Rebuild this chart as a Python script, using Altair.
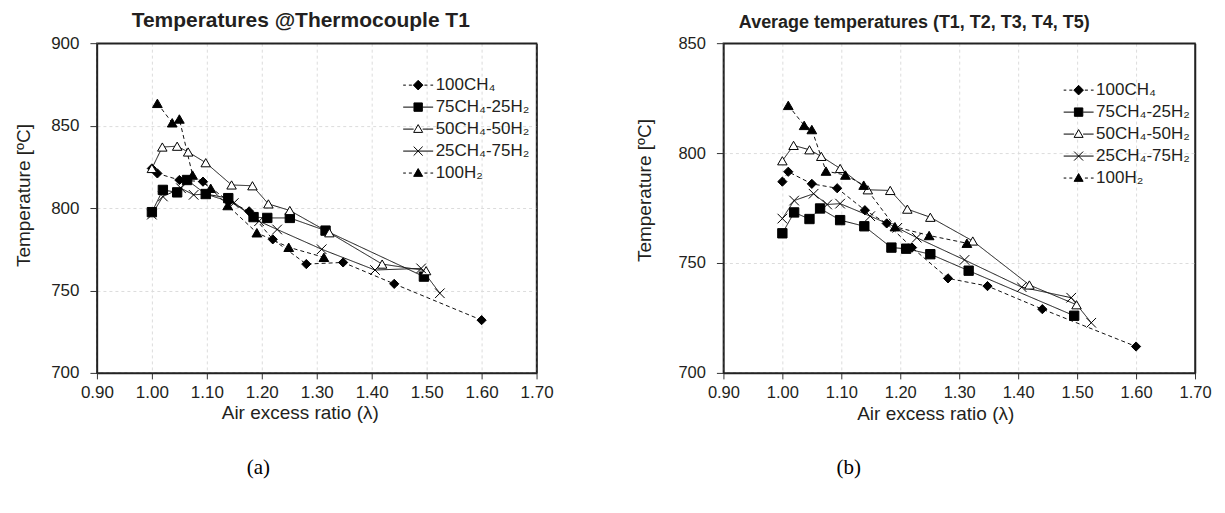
import altair as alt
import pandas as pd

series = ["100CH₄", "75CH₄-25H₂", "50CH₄-50H₂", "25CH₄-75H₂", "100H₂"]

# 100CH4
lam_ch4 = [1.00, 1.01, 1.05, 1.093, 1.14, 1.177, 1.22, 1.281, 1.348, 1.441, 1.60]
t1_ch4 = [824, 821, 817, 816, 804, 798, 781, 766, 767, 754, 732]
avg_ch4 = [787, 791.5, 786, 784, 774, 768, 757, 743, 739.5, 729, 712]
# 75CH4-25H2
lam_75 = [1.00, 1.02, 1.046, 1.064, 1.098, 1.139, 1.185, 1.21, 1.251, 1.316, 1.495]
t1_75 = [797.5, 811, 809.5, 817, 808.5, 806, 794.5, 794, 794, 786.3, 758.4]
avg_75 = [763.5, 773, 770, 774.8, 769.5, 766.7, 757, 756.5, 754, 746.5, 726]
# 50CH4-50H2
lam_50 = [1.00, 1.019, 1.046, 1.066, 1.098, 1.145, 1.183, 1.212, 1.251, 1.323, 1.419, 1.499]
t1_50 = [824, 837, 837.5, 834, 827.5, 814, 813.5, 802.5, 798.5, 785, 766, 762]
avg_50 = [796.5, 803.5, 801.5, 798.5, 793, 783.3, 783, 774.5, 770.8, 760, 740, 731]
# 25CH4-75H2
lam_25 = [1.00, 1.02, 1.053, 1.076, 1.098, 1.149, 1.195, 1.228, 1.309, 1.406, 1.49, 1.524]
t1_25 = [796, 807, 812, 808, 808.5, 803, 792, 787, 775, 762.4, 763.4, 748.3]
avg_25 = [770.2, 778.4, 781.5, 776.6, 777, 771.3, 766, 761.5, 751.4, 739, 734.2, 722.8]
# 100H2
lam_h2 = [1.01, 1.037, 1.05, 1.074, 1.107, 1.138, 1.191, 1.249, 1.313]
t1_h2 = [863.5, 851.7, 854, 820, 812, 801.5, 785, 776.2, 770.1]
avg_h2 = [821.7, 812.6, 810.7, 791.8, 790, 785.4, 766.5, 762.5, 759]

x_ticks = [0.9, 1.0, 1.1, 1.2, 1.3, 1.4, 1.5, 1.6, 1.7]


def frame(pairs):
    rows = []
    for name, (lams, temps) in zip(series, pairs):
        for l, t in zip(lams, temps):
            rows.append({"series": name, "lam": l, "T": t})
    return pd.DataFrame(rows)


df_t1 = frame([(lam_ch4, t1_ch4), (lam_75, t1_75), (lam_50, t1_50), (lam_25, t1_25), (lam_h2, t1_h2)])
df_avg = frame([(lam_ch4, avg_ch4), (lam_75, avg_75), (lam_50, avg_50), (lam_25, avg_25), (lam_h2, avg_h2)])

FONT = "Liberation Sans"
TXT = "#231f20"
CROSS = "M-1,-1L1,1M-1,1L1,-1"
pt_shapes = ["diamond", "square", "triangle-up", CROSS, "triangle-up"]
pt_sizes = [85, 95, 95, 100, 95]
fills = ["black", "black", "white", "black", "black"]
dashes = [[4, 3], [1, 0], [1, 0], [1, 0], [4, 3]]

SOLID = "M-1,0L-0.3,0M0.3,0L1,0"
DASHED = "M-1,0L-0.82,0M-0.62,0L-0.42,0M0.42,0L0.62,0M0.82,0L1,0"
DIAM = "M0,-0.32L0.32,0L0,0.32L-0.32,0Z"
SQ = "M-0.28,-0.28L0.28,-0.28L0.28,0.28L-0.28,0.28Z"
TRI = "M0,-0.3L0.3,0.22L-0.3,0.22Z"
XX = "M-1,0L1,0M-0.3,-0.3L0.3,0.3M-0.3,0.3L0.3,-0.3"
leg_paths = [DASHED + DIAM, SOLID + SQ, SOLID + TRI, XX, DASHED + TRI]


def panel(df, ymax, width, heading, head_size, head_dx, caption, cap_x, leg_x, leg_y,
          ytitle_pad, ytitle_y, xtitle_x, lab_size):
    xscale = alt.Scale(domain=[0.9, 1.7], nice=False, zero=False)
    yscale = alt.Scale(domain=[700, ymax], nice=False, zero=False)
    yticks = list(range(700, ymax + 1, 50))
    base = alt.Chart(df)
    lines = base.mark_line(color="#111", strokeWidth=1).encode(
        x=alt.X("lam:Q", scale=xscale,
                axis=alt.Axis(values=x_ticks, format=".2f", title="Air excess ratio (λ)",
                              grid=True, gridColor="#dcdcdc", gridDash=[3, 3],
                              labelFont=FONT, labelFontSize=lab_size, labelColor=TXT,
                              labelFlush=False, labelOverlap=False, labelPadding=6,
                              tickSize=6, tickColor="#333", domainColor="#222", domainWidth=1.5,
                              titleFont=FONT, titleFontSize=19, titleFontWeight="normal",
                              titleColor=TXT, titlePadding=3, titleX=xtitle_x)),
        y=alt.Y("T:Q", scale=yscale,
                axis=alt.Axis(values=yticks, title="Temperature [ºC]",
                              grid=True, gridColor="#dcdcdc", gridDash=[3, 3],
                              labelFont=FONT, labelFontSize=lab_size, labelColor=TXT,
                              labelFlush=False, labelOverlap=False, labelPadding=11,
                              tickSize=7, tickColor="#333", domainColor="#222", domainWidth=1.5,
                              titleFont=FONT, titleFontSize=19, titleFontWeight="normal",
                              titleColor=TXT, titlePadding=ytitle_pad, titleY=ytitle_y)),
        detail="series:N",
        strokeDash=alt.StrokeDash("series:N", scale=alt.Scale(domain=series, range=dashes), legend=None),
    )
    frame_axis = dict(labels=False, ticks=False, grid=False, title=None,
                      domainColor="#222", domainWidth=1.5)
    points = base.mark_point(filled=True, stroke="black", strokeWidth=1, opacity=1).encode(
        x=alt.X("lam:Q", scale=xscale, axis=alt.Axis(orient="top", **frame_axis)),
        y=alt.Y("T:Q", scale=yscale, axis=alt.Axis(orient="right", **frame_axis)),
        shape=alt.Shape("series:N", scale=alt.Scale(domain=series, range=pt_shapes), legend=None),
        fill=alt.Fill("series:N", scale=alt.Scale(domain=series, range=fills), legend=None),
        size=alt.Size("series:N", scale=alt.Scale(domain=series, range=pt_sizes), legend=None),
    )
    leg_def = alt.Legend(orient="none", legendX=leg_x, legendY=leg_y, title=None,
                         labelFont=FONT, labelFontSize=17, labelColor=TXT,
                         symbolSize=900, symbolStrokeWidth=1,
                         symbolOpacity=1, clipHeight=20, rowPadding=2, labelOffset=2, padding=0)
    leg = base.transform_filter("false").mark_point(filled=True, strokeWidth=1, opacity=1).encode(
        x=alt.X("lam:Q", scale=xscale,
                axis=alt.Axis(orient="bottom", title=caption, labels=False, ticks=False, domain=False,
                              grid=False, offset=84, titlePadding=0, titleFont="Liberation Serif",
                              titleFontSize=21, titleFontWeight="normal", titleColor="black",
                              titleX=cap_x)),
        y=alt.Y("T:Q", scale=yscale, axis=None),
        shape=alt.Shape("series:N", scale=alt.Scale(domain=series, range=leg_paths), legend=leg_def),
        fill=alt.Fill("series:N", scale=alt.Scale(domain=series, range=fills), legend=leg_def),
        stroke=alt.Stroke("series:N", scale=alt.Scale(domain=series, range=["black"] * 5), legend=leg_def),
    )
    return alt.layer(lines, points, leg).resolve_scale(
        shape="independent", fill="independent", size="independent", stroke="independent"
    ).resolve_axis(x="independent", y="independent").properties(
        width=width, height=330,
        title=alt.TitleParams(heading, font=FONT, fontSize=head_size, fontWeight="bold",
                              color=TXT, dx=head_dx, offset=3),
    )


left = panel(df_t1, 900, 440, "Temperatures @Thermocouple T1", 21, -16, "(a)", 161,
             306, 32, 17, 152, 203, 17)
right = panel(df_avg, 850, 472, "Average temperatures (T1, T2, T3, T4, T5)", 18, -45, "(b)", 125,
              340, 37, 23, 147, 212, 16.5)

chart = alt.hconcat(left, right, spacing=80).resolve_scale(
    shape="independent", fill="independent", size="independent", strokeDash="independent",
    stroke="independent"
).resolve_legend(shape="independent", fill="independent", stroke="independent").configure_view(
    stroke="#222", strokeWidth=1.5
).properties(padding={"left": 5, "top": 1, "right": 5, "bottom": 5})

chart.save("out.html", embed_options={"renderer": "svg", "actions": False})
